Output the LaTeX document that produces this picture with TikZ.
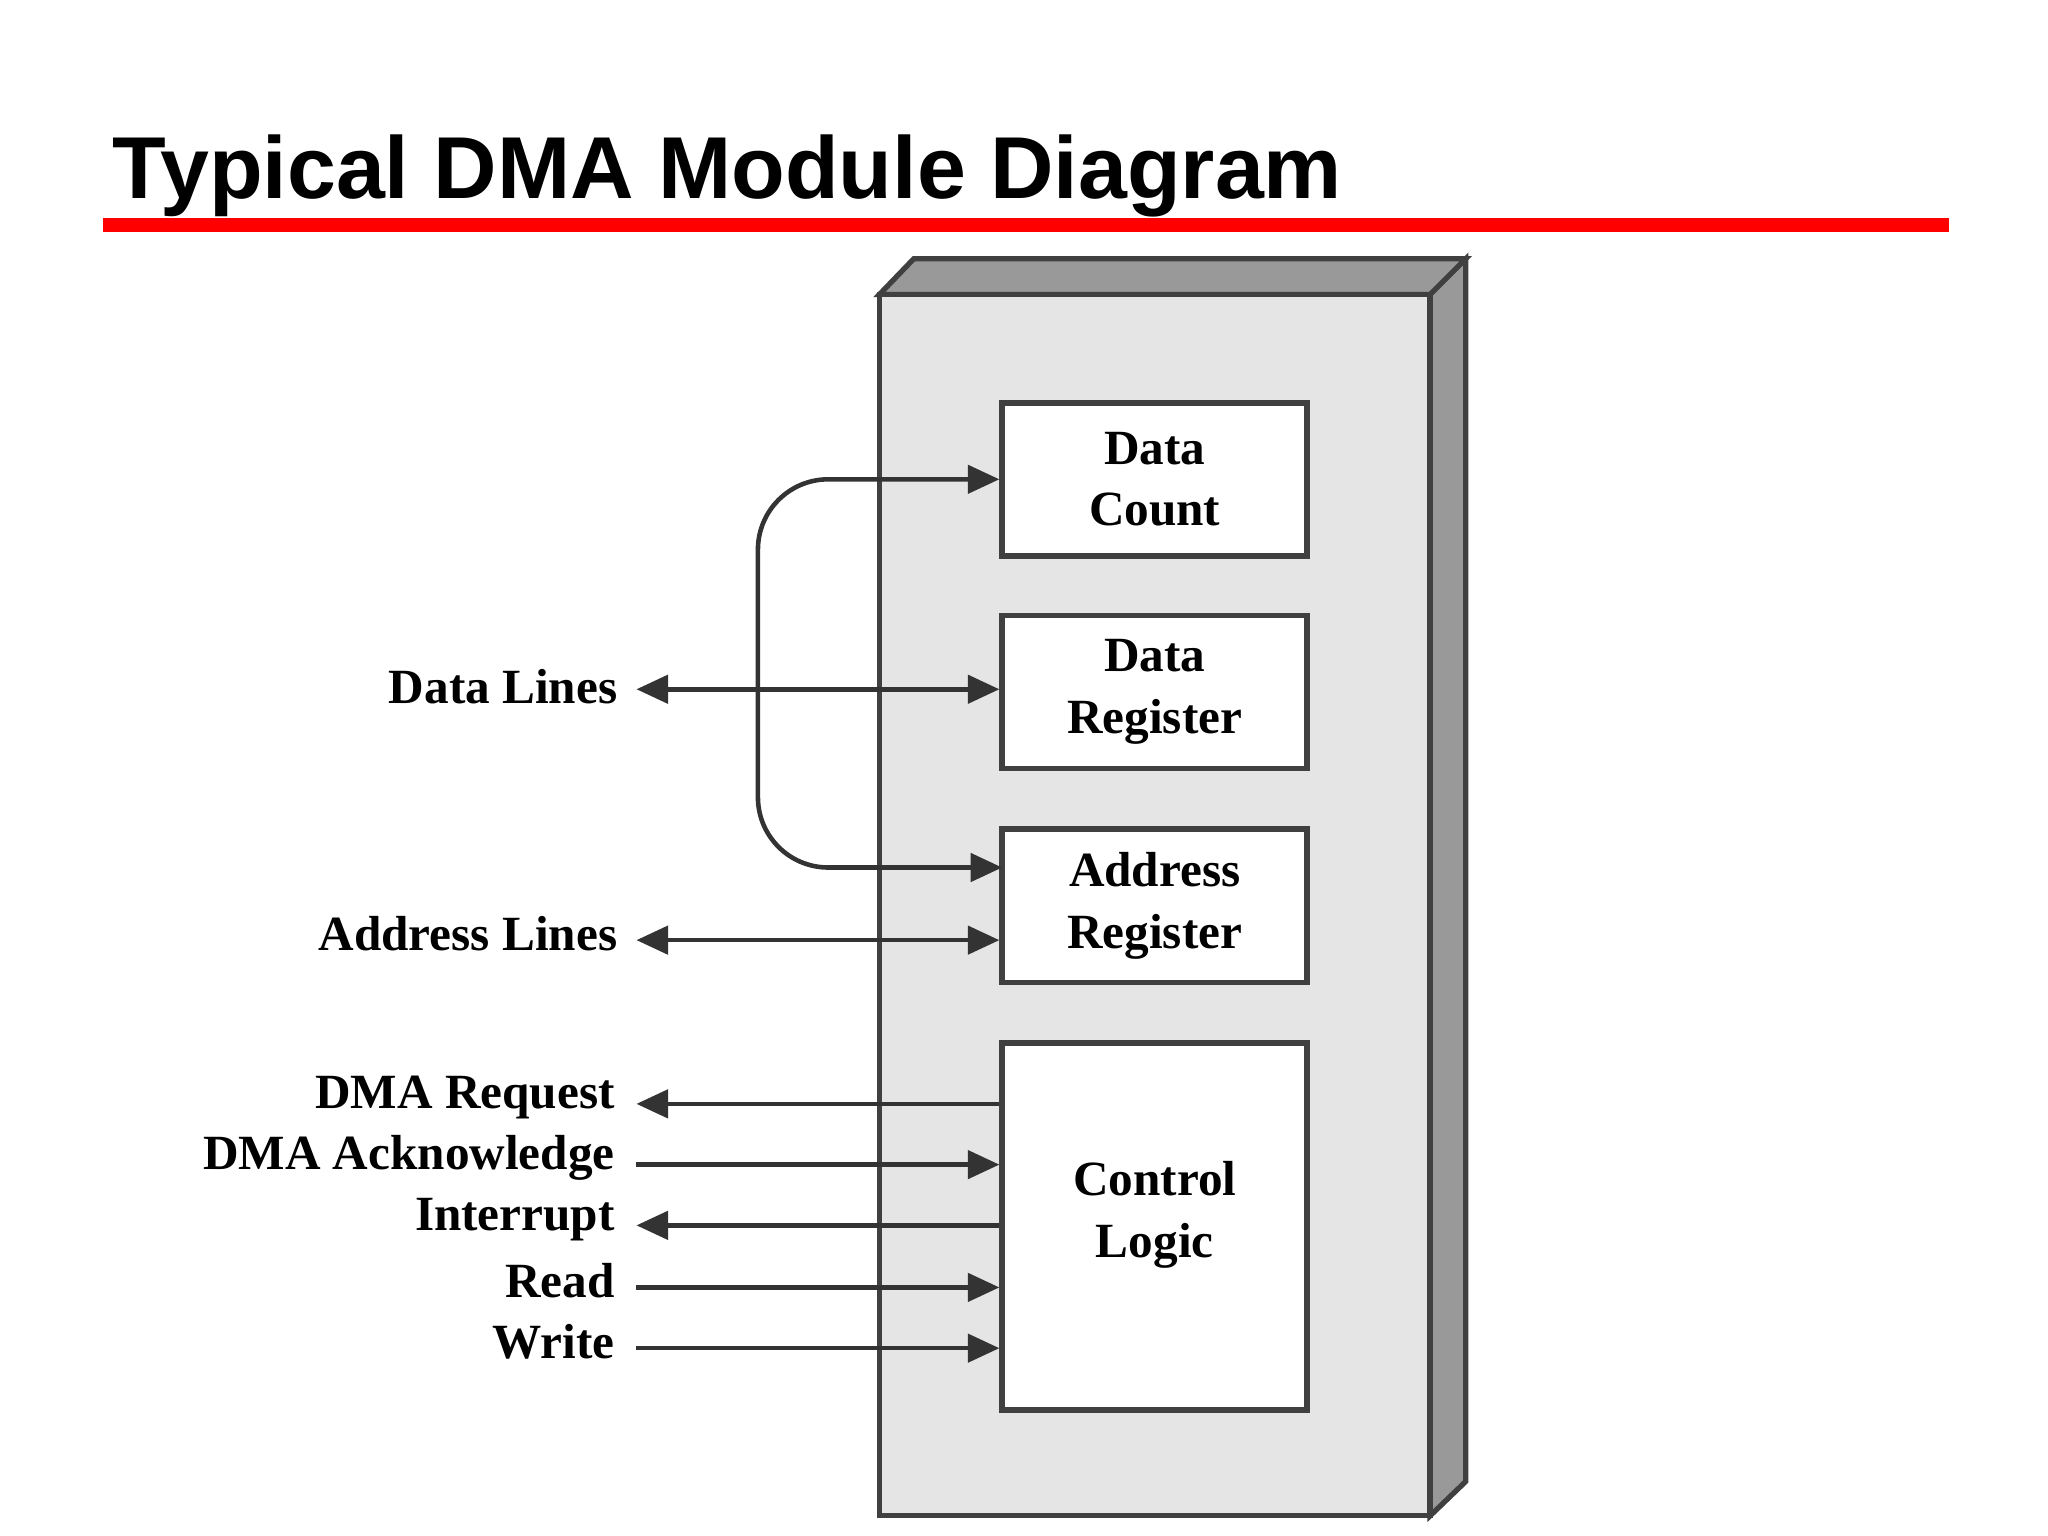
\documentclass[tikz,border=0pt]{standalone}
\usepackage{fontspec}
\setmainfont{Liberation Serif}
\newfontfamily\titlefont{Liberation Sans}
\usetikzlibrary{arrows.meta}
\begin{document}
\begin{tikzpicture}[x=0.013205cm,y=-0.013205cm,
  box/.style={draw=black!75,line width=1.6pt,fill=white,minimum width=231*0.013205cm,align=center,font=\bfseries\fontsize{14}{17.5}\selectfont,inner sep=0pt},
  lbl/.style={anchor=east,font=\bfseries\fontsize{14}{17}\selectfont,inner sep=0pt},
  ar/.style={draw=black!80,line width=1.3pt,-{Triangle[length=9pt,width=8pt]}},
  dar/.style={draw=black!80,line width=1.3pt,{Triangle[length=9pt,width=8pt]}-{Triangle[length=9pt,width=8pt]}}]
\useasboundingbox (0,0) rectangle (1551,1163);
\node[anchor=base west,inner sep=0pt,font=\titlefont\bfseries\fontsize{25}{30}\selectfont] (title) at (85,150) {Typical DMA Module Diagram};
\fill[red] (78,165) rectangle (1476,176);
% 3D box
\draw[draw=black!75,line width=1.5pt,fill=black!40] (1083,223)--(1110,196)--(1110,1122)--(1083,1148)--cycle;
\draw[draw=black!75,line width=1.5pt,fill=black!40] (666,223)--(692,196)--(1110,196)--(1083,223)--cycle;
\draw[draw=black!75,line width=1.5pt,fill=black!10] (666,223) rectangle (1083,1148);
% boxes
\node[box,minimum height=116*0.013205cm] (dc) at (874.5,363) {Data\\Count};
\node[box,minimum height=116*0.013205cm] (dr) at (874.5,524) {Data\\Register};
\node[box,minimum height=116*0.013205cm] (ad) at (874.5,686) {Address\\Register};
\node[box,minimum height=278*0.013205cm] (cl) at (874.5,929) {};
\node[align=center,font=\bfseries\fontsize{14}{17.5}\selectfont] (clt) at (874.5,920) {Control\\Logic};
% labels
\node[lbl] (l1) at (468,520) {Data Lines};
\node[lbl] (l2) at (468,707) {Address Lines};
\node[lbl] (l3) at (466,831) {DMA Request};
\node[lbl] (l4) at (466,877) {DMA Acknowledge};
\node[lbl] (l5) at (466,924) {Interrupt};
\node[lbl] (l6) at (466,970) {Read};
\node[lbl] (l7) at (466,1016) {Write};
% connectors
\coordinate (a1) at (482,522);
\coordinate (a2) at (482,712);
\coordinate (a3) at (482,836);
\coordinate (a4) at (482,882);
\coordinate (a5) at (482,928);
\coordinate (a6) at (482,975);
\coordinate (a7) at (482,1021);
\draw[dar] (a1) -- (a1 -| dr.west);
\draw[dar] (a2) -- (a2 -| ad.west);
\draw[ar] (a3 -| cl.west) -- (a3);
\draw[ar] (a4) -- (a4 -| cl.west);
\draw[ar] (a5 -| cl.west) -- (a5);
\draw[ar] (a6) -- (a6 -| cl.west);
\draw[ar] (a7) -- (a7 -| cl.west);
\coordinate (lp1) at (dc.west);
\coordinate (lp2) at (759,657);
\draw[dar,rounded corners=20] (lp1) -- (574,363) -- (574,657) -- (lp2);
\end{tikzpicture}
\end{document}
